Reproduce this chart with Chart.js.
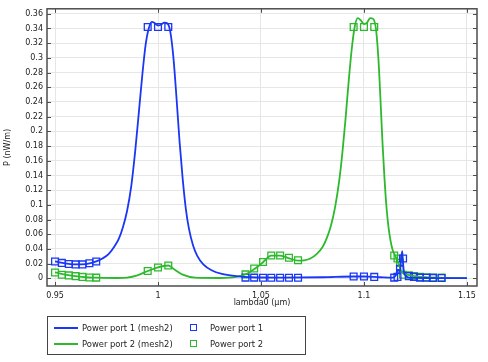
<!DOCTYPE html>
<html>
<head>
<meta charset="utf-8">
<script src="https://cdn.jsdelivr.net/npm/chart.js@4.4.0/dist/chart.umd.min.js"></script>
<style>
  body { margin: 0; background: #fff; font-family: "DejaVu Sans", sans-serif; }
  #wrap { position: relative; width: 488px; height: 362px; }
  #legend {
    position: absolute; left: 47px; top: 316px; width: 257px; height: 37px;
    border: 1px solid #444; font-size: 8.4px; color: #222;
  }
  .row { position: absolute; left: 0; height: 12px; line-height: 12px; }
  .ln { position: absolute; left: 6px; top: 5px; width: 24px; height: 2px; }
  .lbl { position: absolute; left: 34px; top: 0; white-space: nowrap; }
  .mk { position: absolute; left: 142px; top: 2px; width: 5px; height: 5px; border: 1.5px solid; }
  .lbl2 { position: absolute; left: 162px; top: 0; white-space: nowrap; }
</style>
</head>
<body>
<div id="wrap">
  <canvas id="chart" width="488" height="362"></canvas>
  <div id="legend">
    <div class="row" style="top:5px">
      <div class="ln" style="background:rgb(25,55,245)"></div>
      <div class="lbl">Power port 1 (mesh2)</div>
      <div class="mk" style="border-color:rgb(25,55,245)"></div>
      <div class="lbl2">Power port 1</div>
    </div>
    <div class="row" style="top:21px">
      <div class="ln" style="background:rgb(45,185,45)"></div>
      <div class="lbl">Power port 2 (mesh2)</div>
      <div class="mk" style="border-color:rgb(45,185,45)"></div>
      <div class="lbl2">Power port 2</div>
    </div>
  </div>
</div>
<script>
const blue = 'rgb(25,55,245)';
const green = 'rgb(45,185,45)';

const xTicks = [0.95, 1, 1.05, 1.1, 1.15];
const yTicks = [0, 0.02, 0.04, 0.06, 0.08, 0.1, 0.12, 0.14, 0.16, 0.18, 0.2, 0.22, 0.24, 0.26, 0.28, 0.3, 0.32, 0.34, 0.36];
const xTitle = 'lambda0 (µm)';
const yTitle = 'P (nW/m)';

// Power port 1 (mesh2)
const lambdaLine1 = [0.95, 0.955, 0.96, 0.965, 0.97, 0.973, 0.976, 0.979, 0.981, 0.983, 0.985, 0.987, 0.989, 0.991, 0.9925,
  0.994, 0.9955, 0.997, 0.9985, 1.0, 1.0015, 1.003, 1.0045, 1.006, 1.0075, 1.009, 1.0105, 1.012, 1.0135, 1.015, 1.017,
  1.019, 1.022, 1.026, 1.031, 1.038, 1.045, 1.06, 1.08, 1.095, 1.1, 1.108, 1.114, 1.1155, 1.1165, 1.1175, 1.118, 1.1186,
  1.119, 1.1195, 1.1205, 1.122, 1.13, 1.14, 1.15];
const powerLine1 = [0.023, 0.0205, 0.019, 0.0195, 0.023, 0.027, 0.033, 0.044, 0.054, 0.07, 0.092, 0.125, 0.175, 0.235, 0.28,
  0.318, 0.34, 0.349, 0.347, 0.344, 0.345, 0.348, 0.347, 0.335, 0.3, 0.245, 0.185, 0.135, 0.095, 0.068, 0.045,
  0.031, 0.019, 0.011, 0.006, 0.003, 0.0015, 0.001, 0.0015, 0.0025, 0.0025, 0.0015, 0.001, 0.004, 0.012, 0.01, 0.025, 0.037,
  0.02, 0.008, 0.003, 0.001, 0.0005, 0.0003, 0.0002];

// Power port 2 (mesh2)
const lambdaLine2 = [0.95, 0.955, 0.96, 0.965, 0.97, 0.98, 0.985, 0.99, 0.995, 1.0, 1.005, 1.008, 1.012, 1.018, 1.03, 1.038,
  1.043, 1.047, 1.051, 1.055, 1.059, 1.063, 1.068, 1.071, 1.074, 1.077, 1.08, 1.082, 1.084, 1.086, 1.088, 1.0895, 1.091,
  1.0925, 1.094, 1.0955, 1.097, 1.0985, 1.1, 1.1015, 1.103, 1.1045, 1.1058, 1.107, 1.108, 1.109, 1.11, 1.111, 1.112,
  1.113, 1.114, 1.1155, 1.117, 1.118, 1.119, 1.121, 1.125, 1.13, 1.14, 1.15];
const powerLine2 = [0.008, 0.005, 0.003, 0.0015, 0.001, 0.0005, 0.001, 0.004, 0.01, 0.015, 0.0175, 0.012, 0.005, 0.001, 0.0005, 0.002,
  0.006, 0.013, 0.022, 0.031, 0.031, 0.028, 0.024, 0.0245, 0.027, 0.033, 0.043, 0.055, 0.072, 0.097, 0.133, 0.17, 0.215,
  0.265, 0.31, 0.342, 0.354, 0.351, 0.346, 0.348, 0.354, 0.353, 0.34, 0.3, 0.245, 0.185, 0.135, 0.095, 0.068,
  0.05, 0.038, 0.029, 0.019, 0.011, 0.007, 0.005, 0.003, 0.0015, 0.0005, 0.0002];

// Power port 1 / 2 (markers)
const lambdaMarks = [0.95, 0.9533, 0.9567, 0.96, 0.9633, 0.9667, 0.97, 0.995, 1.0, 1.005,
  1.0425, 1.0467, 1.051, 1.055, 1.0593, 1.0636, 1.068, 1.095, 1.1, 1.105,
  1.1147, 1.1163, 1.1175, 1.119, 1.1218, 1.1243, 1.1272, 1.1304, 1.1335, 1.1377];
const powerMarks1 = [0.023, 0.021, 0.0195, 0.019, 0.019, 0.0205, 0.023, 0.342, 0.342, 0.342,
  0.001, 0.001, 0.0008, 0.0008, 0.0008, 0.0008, 0.0008, 0.0025, 0.0025, 0.002,
  0.001, 0.002, 0.013, 0.027, 0.003, 0.002, 0.001, 0.0008, 0.0006, 0.0005];
const powerMarks2 = [0.008, 0.005, 0.004, 0.003, 0.002, 0.0012, 0.001, 0.01, 0.0147, 0.0175,
  0.0054, 0.0135, 0.0223, 0.031, 0.031, 0.028, 0.0246, 0.342, 0.342, 0.342,
  0.031, 0.027, 0.021, 0.005, 0.004, 0.003, 0.002, 0.0015, 0.001, 0.001];

function pts(xs, ys) {
  return xs.map((x, i) => ({ x: x, y: ys[i] }));
}

const framePlugin = {
  id: 'frame',
  afterDatasetsDraw(chart) {
    const a = chart.chartArea;
    const ctx = chart.ctx;
    const xs = chart.scales.x, ys = chart.scales.y;
    ctx.save();
    ctx.strokeStyle = '#4d4d4d';
    ctx.lineWidth = 1.5;
    ctx.strokeRect(a.left, a.top, a.right - a.left, a.bottom - a.top);
    ctx.lineWidth = 1;
    ctx.beginPath();
    xTicks.forEach(v => {
      const px = Math.round(xs.getPixelForValue(v)) + 0.5;
      ctx.moveTo(px, a.bottom); ctx.lineTo(px, a.bottom - 4);
      ctx.moveTo(px, a.top); ctx.lineTo(px, a.top + 4);
    });
    yTicks.forEach(v => {
      const py = Math.round(ys.getPixelForValue(v)) + 0.5;
      ctx.moveTo(a.left, py); ctx.lineTo(a.left + 4, py);
      ctx.moveTo(a.right, py); ctx.lineTo(a.right - 4, py);
    });
    ctx.stroke();

    // axis titles
    ctx.fillStyle = '#222';
    ctx.font = '8px "DejaVu Sans"';
    ctx.textAlign = 'center';
    ctx.textBaseline = 'middle';
    ctx.fillText(xTitle, (a.left + a.right) / 2, 303);
    ctx.translate(8, (a.top + a.bottom) / 2);
    ctx.rotate(-Math.PI / 2);
    ctx.fillText(yTitle, 0, 0);
    ctx.restore();
  }
};

const ctx = document.getElementById('chart').getContext('2d');
const chart = new Chart(ctx, {
  type: 'line',
  data: {
    datasets: [
      {
        label: 'Power port 1 (mesh2)',
        data: pts(lambdaLine1, powerLine1),
        borderColor: blue,
        borderWidth: 1.8,
        pointRadius: 0,
        cubicInterpolationMode: 'monotone'
      },
      {
        label: 'Power port 2 (mesh2)',
        data: pts(lambdaLine2, powerLine2),
        borderColor: green,
        borderWidth: 1.8,
        pointRadius: 0,
        cubicInterpolationMode: 'monotone'
      },
      {
        label: 'Power port 1',
        data: pts(lambdaMarks, powerMarks1),
        showLine: false,
        pointStyle: 'rect',
        pointRadius: 4.8,
        pointBorderWidth: 1.3,
        pointBorderColor: blue,
        pointBackgroundColor: 'rgba(0,0,0,0)'
      },
      {
        label: 'Power port 2',
        data: pts(lambdaMarks, powerMarks2),
        showLine: false,
        pointStyle: 'rect',
        pointRadius: 4.8,
        pointBorderWidth: 1.3,
        pointBorderColor: green,
        pointBackgroundColor: 'rgba(0,0,0,0)'
      }
    ]
  },
  options: {
    responsive: false,
    animation: false,
    layout: { padding: { top: 6, right: 11, left: 0, bottom: 0 } },
    plugins: { legend: { display: false }, tooltip: { enabled: false } },
    scales: {
      x: {
        type: 'linear',
        min: 0.9461,
        max: 1.1549,
        afterBuildTicks: function(scale) {
          scale.ticks = xTicks.map(v => ({ value: v }));
        },
        afterFit: function(scale) { scale.height = 76; },
        grid: { color: '#e6e6e6', drawTicks: false },
        border: { display: false },
        ticks: {
          padding: 5,
          color: '#222',
          font: { family: 'DejaVu Sans', size: 8 },
          callback: function(value) { return String(+value.toFixed(3)); }
        }
      },
      y: {
        min: -0.0104,
        max: 0.3667,
        afterBuildTicks: function(scale) {
          scale.ticks = yTicks.map(v => ({ value: v }));
        },
        afterFit: function(scale) { scale.width = 47; },
        grid: { color: '#e6e6e6', drawTicks: false },
        border: { display: false },
        ticks: {
          padding: 4,
          color: '#222',
          font: { family: 'DejaVu Sans', size: 8 },
          callback: function(value) { return String(+value.toFixed(3)); }
        }
      }
    }
  },
  plugins: [framePlugin]
});
</script>
</body>
</html>
